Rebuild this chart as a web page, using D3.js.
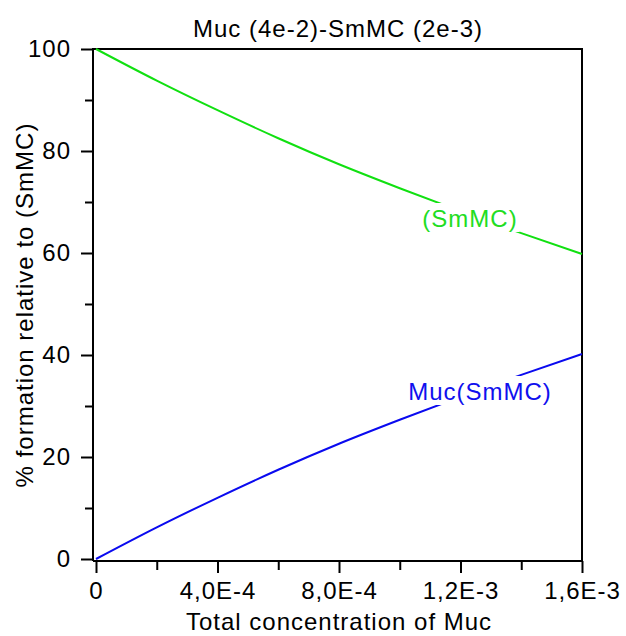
<!DOCTYPE html>
<html>
<head>
<meta charset="utf-8">
<script src="https://cdn.jsdelivr.net/npm/d3@7"></script>
<style>
  body { margin: 0; background: #fff; }
  svg { display: block; font-family: "Liberation Sans", Arial, sans-serif; }
  text { letter-spacing: 1px; }
</style>
</head>
<body>
<div id="chart"></div>
<script>
// data
const concMuc = [0, 2e-4, 4e-4, 6e-4, 8e-4, 1.0e-3, 1.2e-3, 1.4e-3, 1.6e-3];
const freeSmMC = [100, 93.8, 88.0, 82.5, 77.4, 72.7, 68.2, 63.9, 59.8];
const complexSmMC = [0, 6.2, 12.0, 17.5, 22.6, 27.3, 31.8, 36.1, 40.2];

const xTicks = [0, 4e-4, 8e-4, 1.2e-3, 1.6e-3];
const xTickLabels = ["0", "4,0E-4", "8,0E-4", "1,2E-3", "1,6E-3"];
const xMinorTicks = [2e-4, 6e-4, 1.0e-3, 1.4e-3];
const yTicks = [0, 20, 40, 60, 80, 100];
const yMinorTicks = [10, 30, 50, 70, 90];

const width = 626;
const height = 636;

const svg = d3
  .select("#chart")
  .append("svg")
  .attr("width", width)
  .attr("height", height)
  .attr("viewBox", [0, 0, width, height]);

const x = d3.scaleLinear().domain([0, 1.6e-3]).range([96, 582]);
const y = d3.scaleLinear().domain([0, 100]).range([559, 49]);

const frameLeft = 93, frameRight = 582, frameTop = 49, frameBottom = 561;
const fs = 24;

// frame
svg.append("path")
  .attr("d", `M${frameLeft},${frameBottom}V${frameTop}H${frameRight}V${frameBottom}H${frameLeft}`)
  .attr("fill", "none")
  .attr("stroke", "#000")
  .attr("stroke-width", 2);

// y axis
const yAxis = svg.append("g")
  .attr("transform", `translate(${frameLeft},0)`)
  .call(d3.axisLeft(y).tickValues(yTicks).tickSize(12).tickPadding(10));
yAxis.select(".domain").remove();
yAxis.selectAll("line").attr("stroke-width", 2);
yAxis.selectAll("text")
  .attr("font-size", fs)
  .attr("font-family", "Liberation Sans, Arial, sans-serif")
  .attr("fill", "#000");

const yMinor = svg.append("g")
  .attr("transform", `translate(${frameLeft},0)`)
  .call(d3.axisLeft(y).tickValues(yMinorTicks).tickSize(8).tickFormat(""));
yMinor.select(".domain").remove();
yMinor.selectAll("line").attr("stroke-width", 2);

// x axis
const xAxis = svg.append("g")
  .attr("transform", `translate(0,${frameBottom})`)
  .call(d3.axisBottom(x).tickValues(xTicks).tickSize(12).tickPadding(9)
    .tickFormat((d, i) => xTickLabels[i]));
xAxis.select(".domain").remove();
xAxis.selectAll("line").attr("stroke-width", 2);
xAxis.selectAll("text")
  .attr("font-size", fs)
  .attr("font-family", "Liberation Sans, Arial, sans-serif")
  .attr("fill", "#000");

const xMinor = svg.append("g")
  .attr("transform", `translate(0,${frameBottom})`)
  .call(d3.axisBottom(x).tickValues(xMinorTicks).tickSize(9).tickFormat(""));
xMinor.select(".domain").remove();
xMinor.selectAll("line").attr("stroke-width", 2);

// curves
const line = d3.line()
  .x(d => x(d[0]))
  .y(d => y(d[1]))
  .curve(d3.curveMonotoneX);

svg.append("path")
  .datum(concMuc.map((c, i) => [c, freeSmMC[i]]))
  .attr("d", line)
  .attr("fill", "none")
  .attr("stroke", "#11e011")
  .attr("stroke-width", 2);

svg.append("path")
  .datum(concMuc.map((c, i) => [c, complexSmMC[i]]))
  .attr("d", line)
  .attr("fill", "none")
  .attr("stroke", "#0a0aef")
  .attr("stroke-width", 2);

// curve labels with white boxes behind
function curveLabel(text, cx, baseline, color) {
  const t = svg.append("text")
    .attr("x", cx)
    .attr("y", baseline)
    .attr("text-anchor", "middle")
    .attr("font-size", fs)
    .attr("fill", color)
    .text(text);
  const bb = t.node().getBBox();
  svg.insert("rect", () => t.node())
    .attr("x", bb.x - 2)
    .attr("y", baseline - 24)
    .attr("width", bb.width + 4)
    .attr("height", 29)
    .attr("fill", "#fff");
}
curveLabel("(SmMC)", 470, 227, "#22dd22");
curveLabel("Muc(SmMC)", 480, 400, "#1010ee");

// titles
svg.append("text")
  .attr("x", 338)
  .attr("y", 37)
  .attr("text-anchor", "middle")
  .attr("font-size", fs)
  .text("Muc (4e-2)-SmMC (2e-3)");

svg.append("text")
  .attr("x", 339)
  .attr("y", 630)
  .attr("text-anchor", "middle")
  .attr("font-size", fs)
  .text("Total concentration of Muc");

svg.append("text")
  .attr("transform", "translate(33,305) rotate(-90)")
  .attr("text-anchor", "middle")
  .attr("font-size", fs)
  .text("% formation relative to (SmMC)");
</script>
</body>
</html>
